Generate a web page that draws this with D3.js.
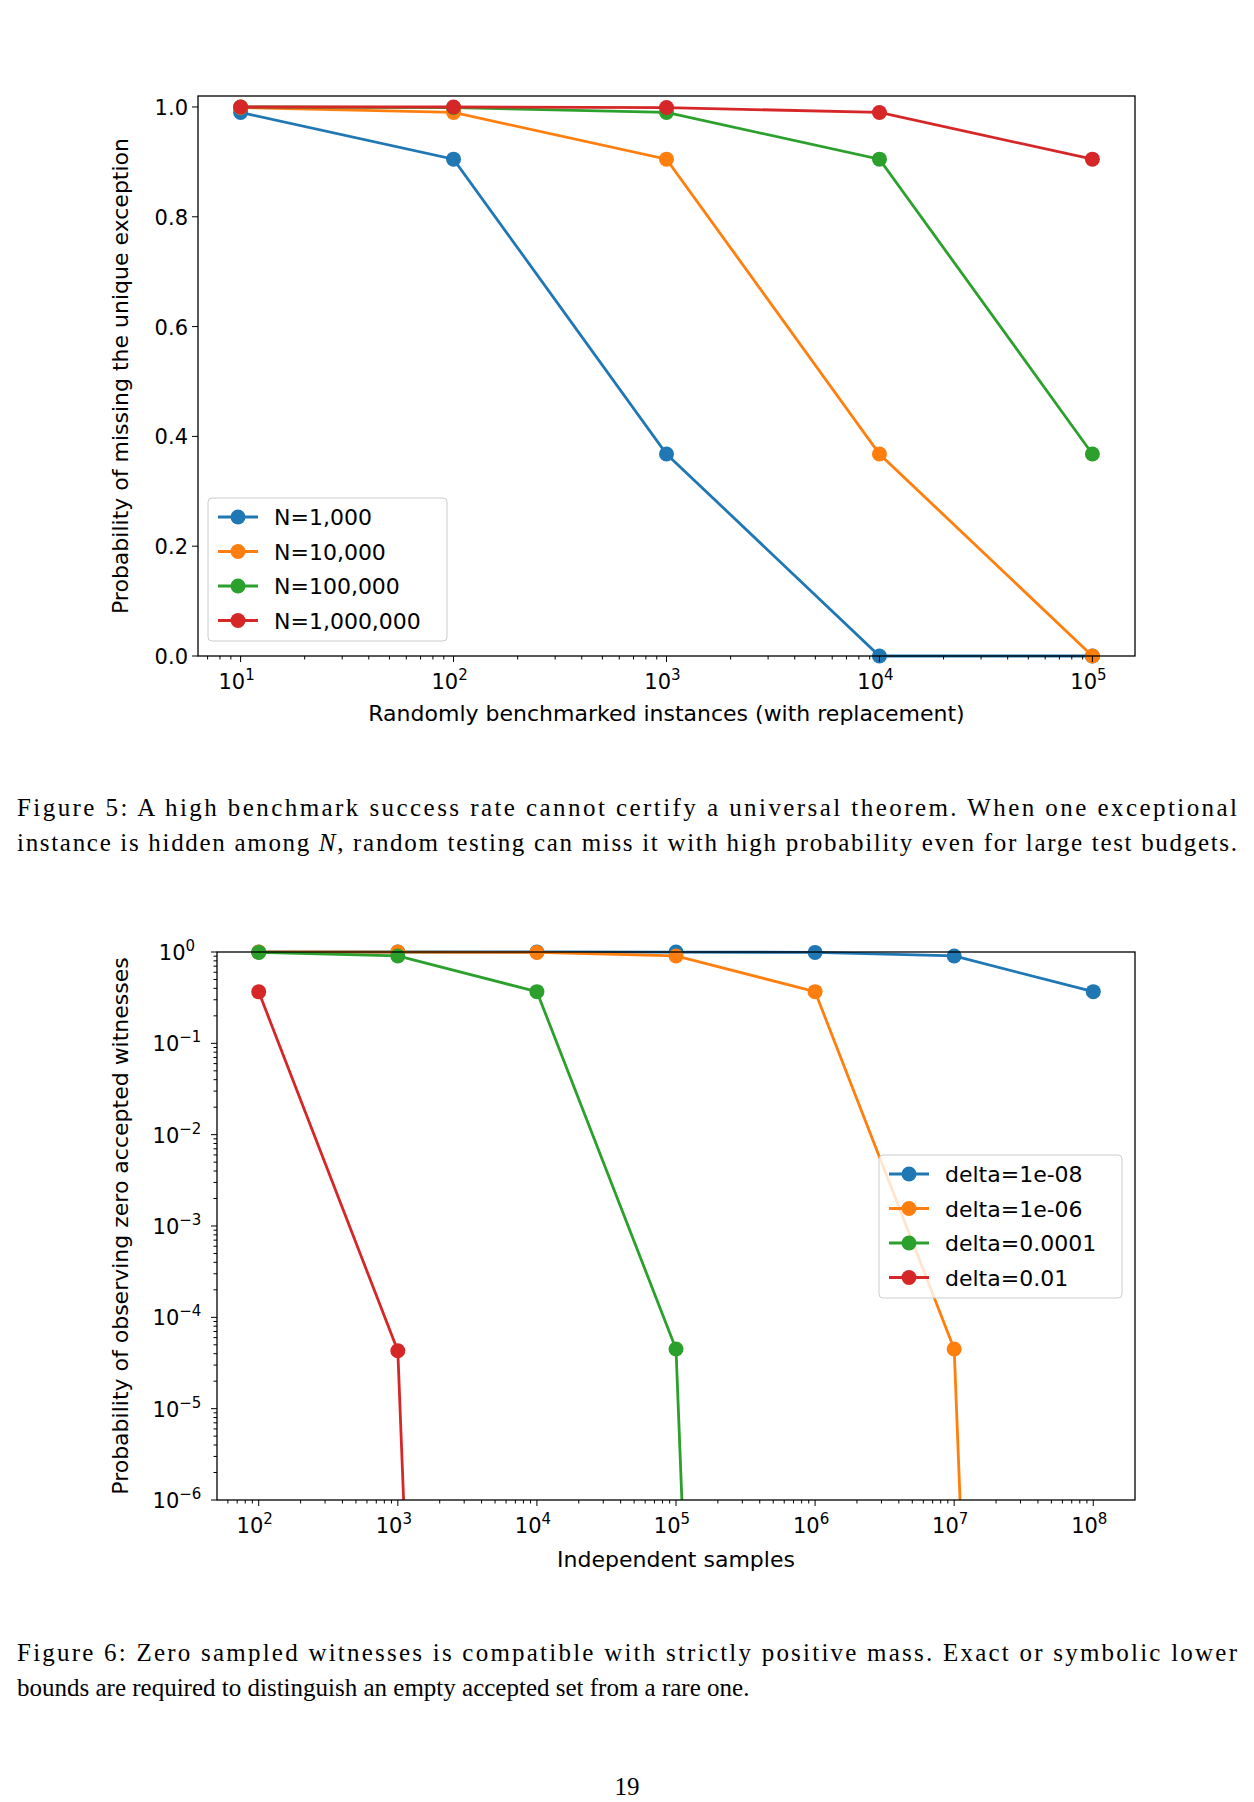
<!DOCTYPE html><html><head><meta charset="utf-8"><script src="https://cdn.jsdelivr.net/npm/d3@7"></script>
<style>body{margin:0;background:#fff}</style></head><body><svg id="s" width="1254" height="1802"></svg>
<script>
const colors=["#1f77b4","#ff7f0e","#2ca02c","#d62728"];
const x1=[10,100,1000,10000,100000];
const names1=["N=1,000","N=10,000","N=100,000","N=1,000,000"];
const vals1=[[0.990,0.905,0.368,0.0,0.0],[0.999,0.990,0.905,0.368,0.0],[1.0,0.999,0.990,0.905,0.368],[1.0,1.0,0.999,0.990,0.905]];
const yTicks1=[0,0.2,0.4,0.6,0.8,1.0];
const x2=[1e2,1e3,1e4,1e5,1e6,1e7,1e8];
const names2=["delta=1e-08","delta=1e-06","delta=0.0001","delta=0.01"];
const vals2=[[1,1,1,0.999,0.990,0.905,0.368],[1,0.999,0.990,0.905,0.368,4.5e-5,3.7e-44],[0.990,0.905,0.368,4.5e-5,3.7e-44,null,null],[0.366,4.3e-5,2.2e-44,null,null,null,null]];
const svg=d3.select("#s");
const F="DejaVu Sans, sans-serif";
function sup(t,base,e,x,y,anchor){const g=t.append("text").attr("x",x).attr("y",y).attr("text-anchor",anchor).attr("font-family",F).attr("font-size",21);g.append("tspan").text(base);g.append("tspan").attr("dy",-9).attr("font-size",15).text(e);return g;}
function legend(x,y,w,h,names){const g=svg.append("g");g.append("rect").attr("x",x).attr("y",y).attr("width",w).attr("height",h).attr("rx",4).attr("fill","#fff").attr("fill-opacity",0.8).attr("stroke","#ccc");
names.forEach((n,i)=>{const yy=y+19+i*34.5;g.append("line").attr("x1",x+10).attr("x2",x+50).attr("y1",yy).attr("y2",yy).attr("stroke",colors[i]).attr("stroke-width",2.8);g.append("circle").attr("cx",x+30).attr("cy",yy).attr("r",7.5).attr("fill",colors[i]);g.append("text").attr("x",x+66).attr("y",yy+8).attr("font-family",F).attr("font-size",22).text(n);});}
// chart 1
{const L=198,R=1135,T=96,B=656;
const x=d3.scaleLog().domain([Math.pow(10,0.8),Math.pow(10,5.2)]).range([L,R]);
const y=d3.scaleLinear().domain([0,1.02]).range([B,T]);
const g=svg.append("g");
g.append("defs").append("clipPath").attr("id","c1").append("rect").attr("x",L).attr("y",T-8).attr("width",R-L+8).attr("height",B-T+16);
vals1.forEach((v,i)=>{const pts=x1.map((d,j)=>[x(d),y(v[j])]);
g.append("path").attr("clip-path","url(#c1)").attr("d",d3.line()(pts)).attr("fill","none").attr("stroke",colors[i]).attr("stroke-width",2.8);
pts.forEach(p=>g.append("circle").attr("clip-path","url(#c1)").attr("cx",p[0]).attr("cy",p[1]).attr("r",7.5).attr("fill",colors[i]));});
g.append("rect").attr("x",L).attr("y",T).attr("width",R-L).attr("height",B-T).attr("fill","none").attr("stroke","#000").attr("stroke-width",1.3);
yTicks1.forEach(t=>{g.append("line").attr("x1",L-6).attr("x2",L).attr("y1",y(t)).attr("y2",y(t)).attr("stroke","#000");
g.append("text").attr("x",L-10).attr("y",y(t)+8).attr("text-anchor","end").attr("font-family",F).attr("font-size",21).text(t.toFixed(1));});
for(let e=0;e<=5;e++)for(let m=1;m<10;m++){const v=m*Math.pow(10,e);if(v<x.domain()[0]||v>x.domain()[1])continue;
g.append("line").attr("x1",x(v)).attr("x2",x(v)).attr("y1",B).attr("y2",B+(m==1?6:3.5)).attr("stroke","#000");}
x1.forEach((d,i)=>sup(g,"10",String(i+1),x(d)-4,B+33,"middle"));
g.append("text").attr("x",(L+R)/2).attr("y",721).attr("text-anchor","middle").attr("font-family",F).attr("font-size",22).text("Randomly benchmarked instances (with replacement)");
g.append("text").attr("transform",`translate(128,${(T+B)/2}) rotate(-90)`).attr("text-anchor","middle").attr("font-family",F).attr("font-size",22).text("Probability of missing the unique exception");
legend(208,498,239,143,names1);}
// chart 2
{const L=217,R=1135,T=952,B=1500;
const x=d3.scaleLog().domain([Math.pow(10,1.7),Math.pow(10,8.3)]).range([L,R]);
const y=d3.scaleLog().domain([1e-6,1]).range([B,T]);
const g=svg.append("g");
g.append("defs").append("clipPath").attr("id","c2").append("rect").attr("x",L).attr("y",T-8).attr("width",R-L).attr("height",B-T+8);
vals2.forEach((v,i)=>{const pts=[];x2.forEach((d,j)=>{if(v[j]!=null)pts.push([x(d),y(v[j])]);});
g.append("path").attr("clip-path","url(#c2)").attr("d",d3.line()(pts)).attr("fill","none").attr("stroke",colors[i]).attr("stroke-width",2.8);
pts.forEach(p=>{if(p[1]<B+8)g.append("circle").attr("clip-path","url(#c2)").attr("cx",p[0]).attr("cy",p[1]).attr("r",7.5).attr("fill",colors[i]);});});
g.append("rect").attr("x",L).attr("y",T).attr("width",R-L).attr("height",B-T).attr("fill","none").attr("stroke","#000").attr("stroke-width",1.3);
for(let e=-6;e<=0;e++){g.append("line").attr("x1",L-6).attr("x2",L).attr("y1",y(Math.pow(10,e))).attr("y2",y(Math.pow(10,e))).attr("stroke","#000");
sup(g,"10",e==0?"0":"\u2212"+(-e),L-40,y(Math.pow(10,e))+8,"middle");
if(e<0)for(let m=2;m<10;m++){const v=m*Math.pow(10,e);g.append("line").attr("x1",L-3.5).attr("x2",L).attr("y1",y(v)).attr("y2",y(v)).attr("stroke","#000");}}
for(let e=1;e<=8;e++)for(let m=1;m<10;m++){const v=m*Math.pow(10,e);if(v<x.domain()[0]||v>x.domain()[1])continue;
g.append("line").attr("x1",x(v)).attr("x2",x(v)).attr("y1",B).attr("y2",B+(m==1?6:3.5)).attr("stroke","#000");}
x2.forEach((d,i)=>sup(g,"10",String(i+2),x(d)-4,B+33,"middle"));
g.append("text").attr("x",(L+R)/2).attr("y",1567).attr("text-anchor","middle").attr("font-family",F).attr("font-size",22).text("Independent samples");
g.append("text").attr("transform",`translate(128,${(T+B)/2}) rotate(-90)`).attr("text-anchor","middle").attr("font-family",F).attr("font-size",22).text("Probability of observing zero accepted witnesses");
legend(879,1155,243,143,names2);}
// captions
const S="Liberation Serif, DejaVu Serif, serif";
function cap(t,y,full){const e=svg.append("text").attr("x",17).attr("y",y).attr("font-family",S).attr("font-size",25).text(t);if(full)e.attr("textLength",1220).attr("lengthAdjust","spacing");}
cap("Figure 5:  A high benchmark success rate cannot certify a universal theorem.  When one exceptional",816,true);
svg.append("text").attr("x",17).attr("y",851).attr("font-family",S).attr("font-size",25).attr("textLength",1220).attr("lengthAdjust","spacing").html('instance is hidden among <tspan font-style="italic">N</tspan>, random testing can miss it with high probability even for large test budgets.');
cap("Figure 6: Zero sampled witnesses is compatible with strictly positive mass. Exact or symbolic lower",1661,true);
cap("bounds are required to distinguish an empty accepted set from a rare one.",1696,false);
svg.append("text").attr("x",627).attr("y",1795).attr("text-anchor","middle").attr("font-family",S).attr("font-size",25).text("19");
</script></body></html>
